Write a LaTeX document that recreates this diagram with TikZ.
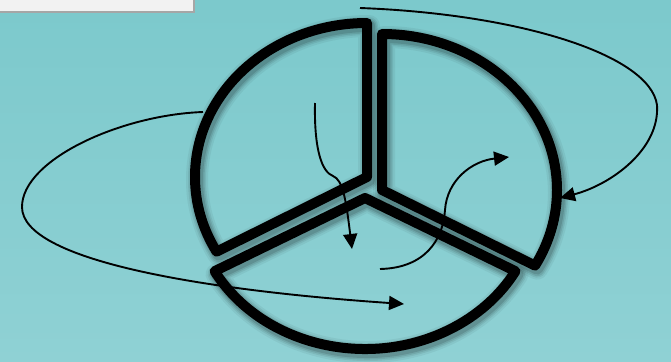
\documentclass[tikz,border=0pt]{standalone}
\usetikzlibrary{arrows.meta}
\definecolor{bgtop}{RGB}{124,201,204}
\definecolor{bgbot}{RGB}{143,209,212}
\definecolor{boxfill}{RGB}{242,242,242}
\definecolor{boxedge}{RGB}{166,166,166}
\newcommand\sectorTL{(367,177) -- (367,23) arc[start angle=-90, end angle=-209, x radius=172, y radius=154] -- cycle}
\newcommand\sectorR{(382,190) -- (382,34) arc[start angle=-90, end angle=29, x radius=175, y radius=156] -- cycle}
\newcommand\sectorB{(365,198) -- (214.6,271.2) arc[start angle=151, end angle=29, x radius=172, y radius=151] -- cycle}
\tikzset{
  sectorline/.style={line width=10pt, black, line join=round},
  shadowline/.style={black, line join=round, shift={(2,3)}},
  flow/.style={line width=1.9pt, black, -{Triangle[length=15pt,width=14pt]}}
}
\begin{document}
\begin{tikzpicture}[x=1pt,y=-1pt]
\useasboundingbox (0,0) rectangle (671,361);
\shade[top color=bgtop, bottom color=bgbot] (0,0) rectangle (671,361);
% top-left box
\fill[boxedge] (0,0) rectangle (195,13.5);
\fill[boxfill] (0,0) rectangle (192.5,11);
% shadows
\foreach \w/\o in {22/0.05,18/0.07,15/0.09,12/0.12}{
  \draw[shadowline, line width=\w pt, opacity=\o] \sectorTL;
  \draw[shadowline, line width=\w pt, opacity=\o] \sectorR;
  \draw[shadowline, line width=\w pt, opacity=\o] \sectorB;
}
% sectors
\draw[sectorline] \sectorTL;
\draw[sectorline] \sectorR;
\draw[sectorline] \sectorB;
% connector end points
\coordinate (a1) at (360,8);
\coordinate (a1m) at (657,105);
\coordinate (a1e) at (560,198);
\coordinate (a2) at (203,112);
\coordinate (a2m) at (22,207);
\coordinate (a2e) at (404,304);
\coordinate (a3) at (315,103);
\coordinate (a3m) at (333,176);
\coordinate (a3e) at (352,249);
\coordinate (a4) at (380,269);
\coordinate (a4m) at (445,210);
\coordinate (a4e) at (509,157);
% arrows
\draw[flow] (a1) .. controls (520,14) and (650,55) .. (a1m) .. controls (660,150) and (610,185) .. (a1e);
\draw[flow] (a2) .. controls (120,115) and (22,160) .. (a2m) .. controls (22,260) and (200,290) .. (a2e);
\draw[flow] (a3) .. controls (314,150) and (322,172) .. (a3m) .. controls (343,180) and (346,200) .. (a3e);
\draw[flow] (a4) .. controls (425,268) and (443,240) .. (a4m) .. controls (447,180) and (472,161) .. (a4e);
\end{tikzpicture}
\end{document}
